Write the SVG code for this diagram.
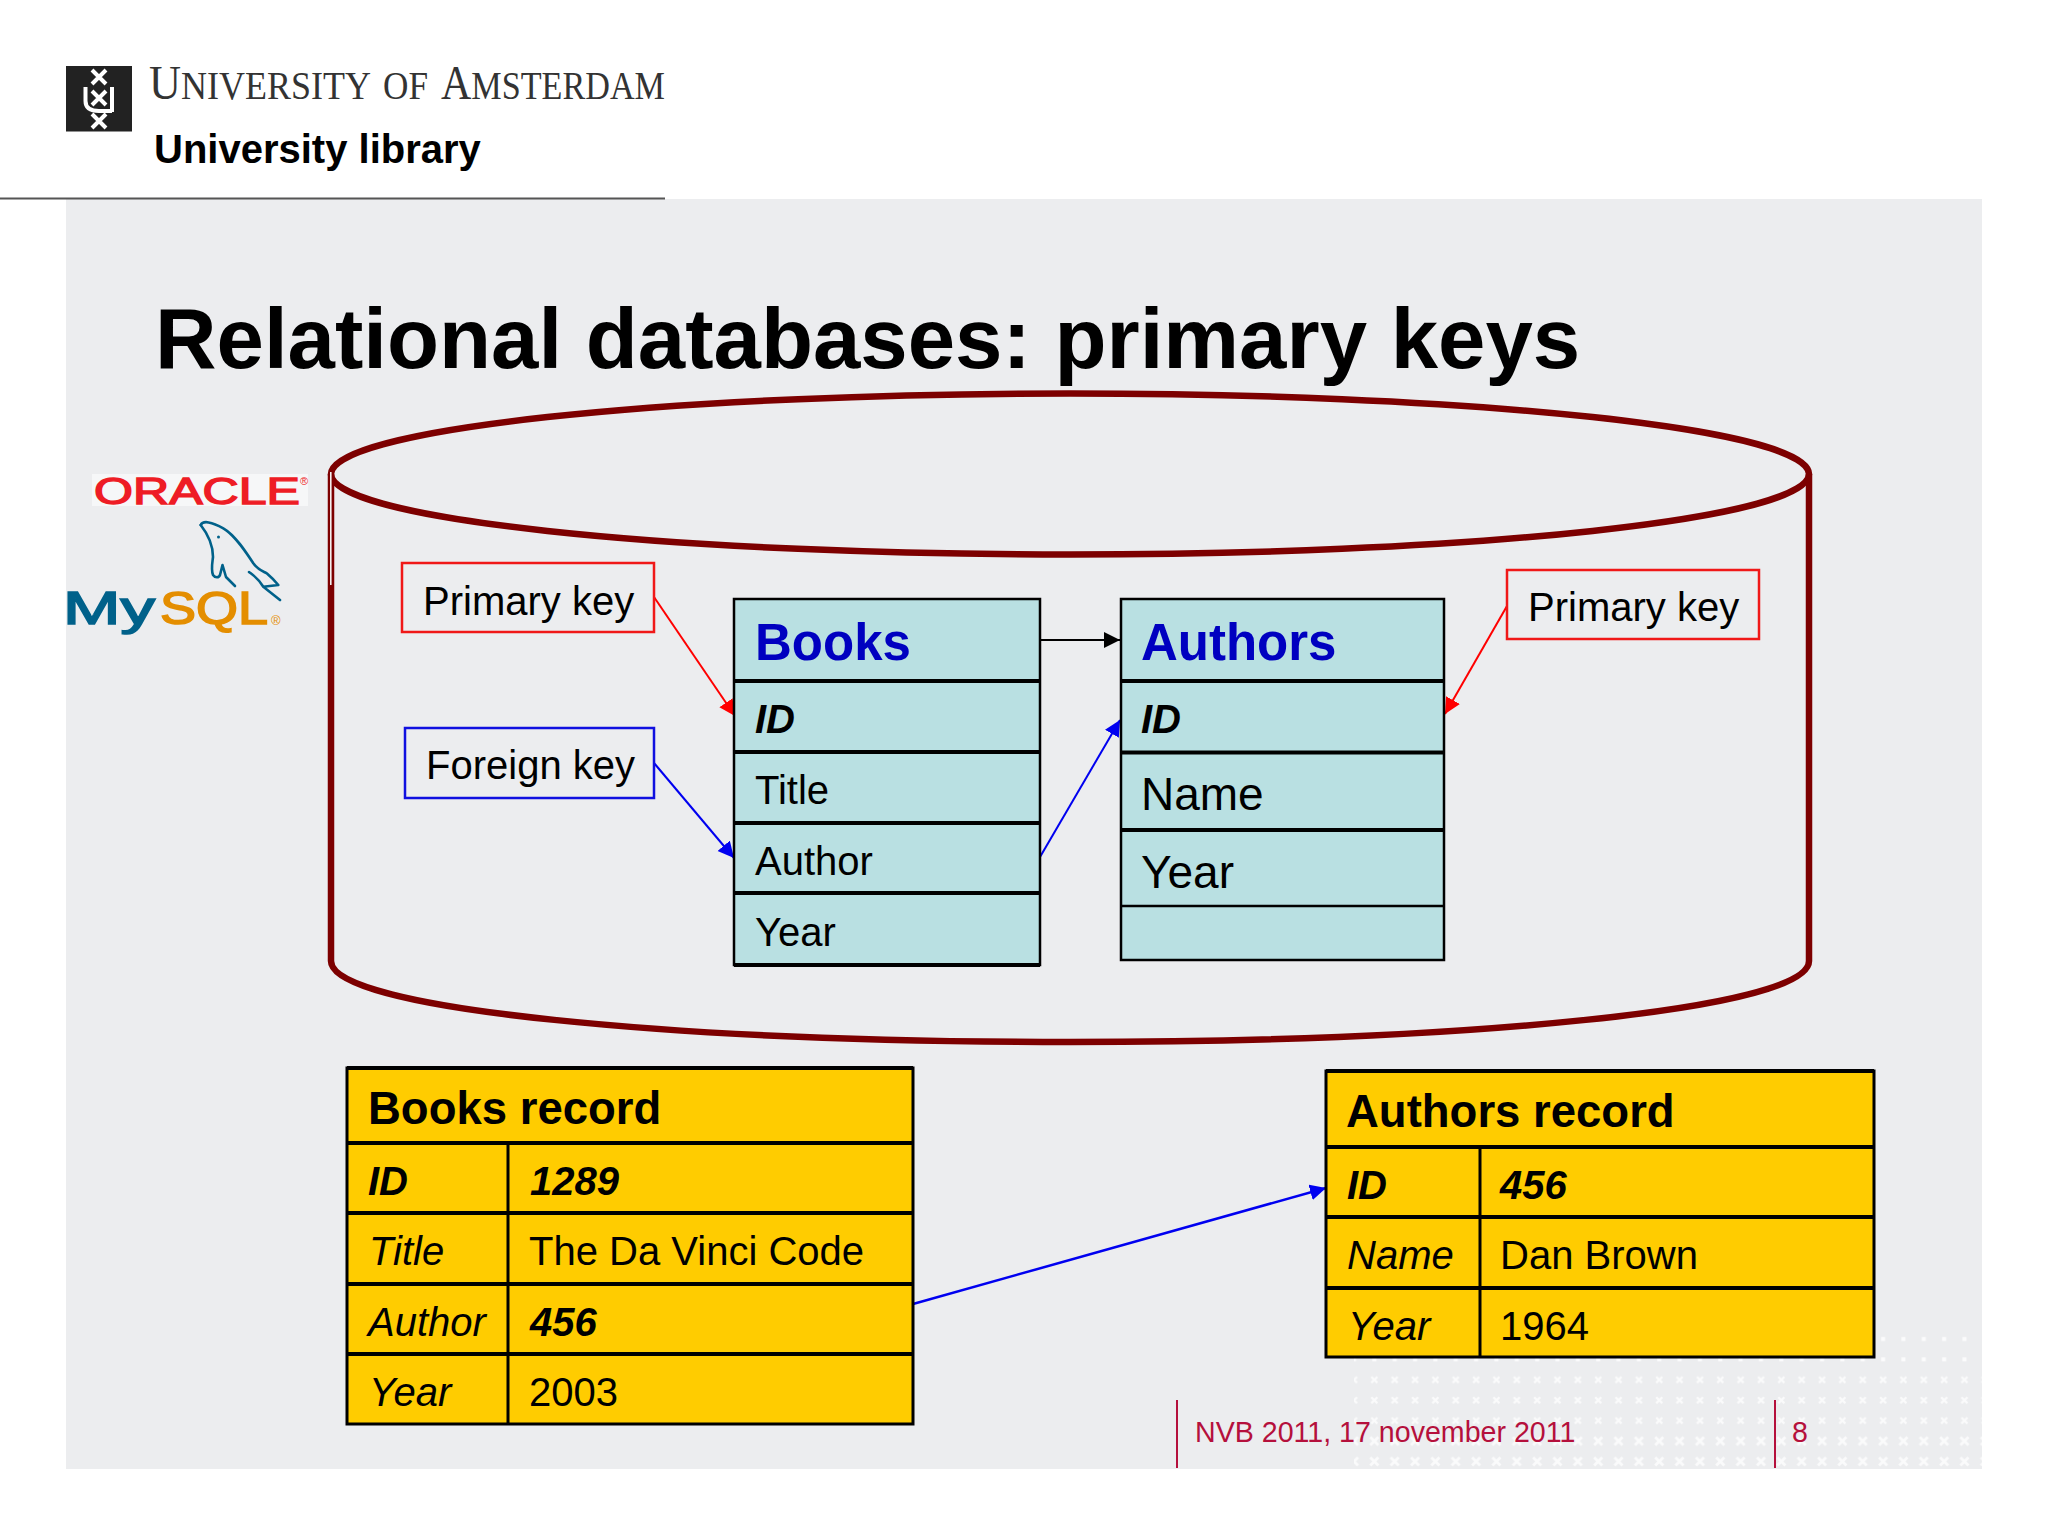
<svg xmlns="http://www.w3.org/2000/svg" width="2048" height="1536" viewBox="0 0 2048 1536">
<style>
text{font-family:"Liberation Sans",Arial,sans-serif;fill:#000}
.b{font-weight:bold}
.i{font-style:italic}
.s40{font-size:40px}
.s45{font-size:46px}
.hd{font-size:51px;font-weight:bold;fill:#0000c0}
.rh{font-size:45.500px;font-weight:bold}
.ft{font-size:28.600px;fill:#b5103c}
.teal{fill:#b9e0e2;stroke:none}
.yel{fill:#ffcc00;stroke:none}
.tk{stroke:#000;stroke-width:4;fill:none}
.tn{stroke:#000;stroke-width:2.5;fill:none}
.cl{stroke:#000;stroke-width:3;fill:none}
.redbox{fill:none;stroke:#f01818;stroke-width:2.5}
.bluebox{fill:none;stroke:#1010e0;stroke-width:2.5}
.cyl{fill:none;stroke:#7d0000;stroke-width:6.500}
.rule{stroke:#b5103c;stroke-width:2}
.dol{fill:none;stroke:#00618a;stroke-width:2.6;stroke-linejoin:round;stroke-linecap:round}
.uva{font-family:"Liberation Serif",serif;fill:#333;font-size:39px}
</style>
<defs>
<marker id="ar" markerUnits="userSpaceOnUse" markerWidth="18" markerHeight="18" refX="16" refY="8" orient="auto"><path d="M0 0L16 8L0 16Z" fill="#ff0000"/></marker>
<marker id="ab" markerUnits="userSpaceOnUse" markerWidth="18" markerHeight="18" refX="16" refY="8" orient="auto"><path d="M0 0L16 8L0 16Z" fill="#0000f0"/></marker>
<marker id="ak" markerUnits="userSpaceOnUse" markerWidth="18" markerHeight="18" refX="16" refY="8" orient="auto"><path d="M0 0L16 8L0 16Z" fill="#000"/></marker>
<pattern id="p1" patternUnits="userSpaceOnUse" x="1344" y="1329" width="20.35" height="20.4"><rect x="8" y="8" width="4" height="4" fill="#fff"/></pattern>
<pattern id="p2" patternUnits="userSpaceOnUse" x="1344" y="1329" width="20.35" height="20.4"><path d="M7 7l6 6M13 7l-6 6" stroke="#fff" stroke-width="2.2"/></pattern>
<pattern id="p3" patternUnits="userSpaceOnUse" x="1344" y="1329" width="20.35" height="20.4"><path d="M6 6l8 8M14 6l-8 8" stroke="#fff" stroke-width="2.8"/></pattern>
</defs>
<rect width="2048" height="1536" fill="#fff"/>
<rect x="66" y="199" width="1916" height="1270" fill="#ecedef"/>
<rect x="1880" y="1333" width="102" height="14" fill="url(#p1)" opacity=".8"/>
<rect x="1354" y="1350" width="628" height="19" fill="url(#p1)" opacity=".8"/>
<rect x="1354" y="1371" width="628" height="58" fill="url(#p2)" opacity=".75"/>
<rect x="1354" y="1431" width="628" height="38" fill="url(#p3)" opacity=".75"/>
<line x1="0" y1="198.5" x2="665" y2="198.5" stroke="#555" stroke-width="2"/>
<g id="logo">
<rect x="66" y="66" width="66" height="65.5" fill="#222"/>
<path d="M92 70l14 14M106 70l-14 14M92 91l14 14M106 91l-14 14M92 114l14 14M106 114l-14 14" stroke="#fff" stroke-width="4" fill="none"/>
<path d="M85.500 87v14q0 10 13.500 10h13M112 87v25" stroke="#fff" stroke-width="4" fill="none"/>
</g>
<g id="uva">
<text class="uva" x="149" y="99" style="fill:#333" textLength="222" lengthAdjust="spacingAndGlyphs"><tspan font-size="48">U</tspan>NIVERSITY</text>
<text class="uva" x="383" y="99" style="fill:#333" textLength="45" lengthAdjust="spacingAndGlyphs">OF</text>
<text class="uva" x="441" y="99" style="fill:#333" textLength="224" lengthAdjust="spacingAndGlyphs"><tspan font-size="48">A</tspan>MSTERDAM</text>
</g>
<text id="lib" x="154" y="163" class="b" font-size="40">University library</text>
<text id="title" x="155" y="368" class="b" font-size="85.200">Relational databases: primary keys</text>
<g id="oracle">
<rect x="92" y="474" width="216" height="32" fill="#fff" opacity=".55"/>
<text x="94" y="504" font-size="37" style="fill:#ee1c25;stroke:#ee1c25;stroke-width:1.400" textLength="206" lengthAdjust="spacingAndGlyphs">ORACLE</text>
<text x="300" y="485" font-size="11" style="fill:#ee1c25">®</text>
</g>
<g id="mysql">
<path class="dol" d="M200.700 525C203 520 212 522 223.300 528.300C235 535 246 552 253.300 563.300C258 570 262 571 266.700 573.300C271 577 275 581 278.300 585L263.300 586.700L280 600M263.300 586.700C258 578 253 575 249 572"/>
<path class="dol" d="M200.700 525C207 533 213 545 213 557C212 565 211 570 213 575C215 578 219 578 220 575L222.500 565L226 577L235 586"/>
<circle cx="218.500" cy="537" r="1.500" fill="#00618a"/>
<text x="63" y="624" font-size="46" style="fill:#00618a;stroke:#00618a;stroke-width:1.600" textLength="92" lengthAdjust="spacingAndGlyphs">My</text>
<text x="160" y="624" font-size="46" style="fill:#e48e00;stroke:#e48e00;stroke-width:1.600" textLength="108" lengthAdjust="spacingAndGlyphs">SQL</text>
<text x="271" y="625" font-size="13" style="fill:#e48e00">®</text>
</g>
<g id="database">
<ellipse class="cyl" cx="1070" cy="474" rx="739" ry="80.500"/>
<path class="cyl" d="M331 474V961C331 1010 680 1042 1070 1042C1460 1042 1809 1010 1809 961V474"/>
<path d="M330.800 472V585" stroke="#f4f0f0" stroke-width="1.600" fill="none"/>
</g>
<g id="connectors" fill="none" stroke-width="2">
<line x1="654" y1="597" x2="735" y2="716" stroke="#ff0000" marker-end="url(#ar)"/>
<line x1="654" y1="763" x2="734" y2="858" stroke="#0000f0" marker-end="url(#ab)"/>
<line x1="1040" y1="640" x2="1120" y2="640" stroke="#000" marker-end="url(#ak)"/>
<line x1="1040" y1="857" x2="1120" y2="720" stroke="#0000f0" marker-end="url(#ab)"/>
<line x1="1507" y1="606" x2="1445" y2="714" stroke="#ff0000" marker-end="url(#ar)"/>
<line x1="913" y1="1304" x2="1326" y2="1188" stroke="#0000f0" stroke-width="2.500" marker-end="url(#ab)"/>
</g>
<g id="pk-left"><rect class="redbox" x="402" y="563" width="252" height="69"/><text class="s40" x="423" y="615">Primary key</text></g>
<g id="fk"><rect class="bluebox" x="405" y="728" width="249" height="70"/><text class="s40" x="426" y="779">Foreign key</text></g>
<g id="pk-right"><rect class="redbox" x="1507" y="570" width="252" height="69"/><text class="s40" x="1528" y="621">Primary key</text></g>
<g id="books">
<rect class="teal" x="734" y="599" width="306" height="366"/>
<path class="tn" d="M734 599H1040V965H734Z"/>
<path class="tk" d="M734 681H1040M734 752H1040M734 823H1040M734 893H1040M734 965H1040"/>
<text class="hd" x="755" y="660" style="fill:#0000c0">Books</text>
<text class="s40 b i" x="755" y="733">ID</text>
<text class="s40" x="755" y="804">Title</text>
<text class="s40" x="755" y="875">Author</text>
<text class="s40" x="755" y="946">Year</text>
</g>
<g id="authors">
<rect class="teal" x="1121" y="599" width="323" height="361"/>
<path class="tn" d="M1121 599H1444V960H1121Z"/>
<path class="tk" d="M1121 681H1444M1121 752.500H1444M1121 830H1444"/>
<path class="tn" d="M1121 906H1444"/>
<text class="hd" x="1141" y="660" style="fill:#0000c0">Authors</text>
<text class="s40 b i" x="1141" y="733">ID</text>
<text class="s45" x="1141" y="810">Name</text>
<text class="s45" x="1141" y="888">Year</text>
</g>
<g id="books-record">
<rect class="yel" x="347" y="1068" width="566" height="356"/>
<path class="cl" d="M347 1068H913V1424H347Z"/>
<path class="tk" d="M347 1068H913M347 1143H913M347 1213H913M347 1284H913M347 1354H913"/>
<path class="cl" d="M508 1143V1424"/>
<text class="rh" x="368" y="1124">Books record</text>
<text class="s40 b i" x="368" y="1195">ID</text><text class="s40 b i" x="530" y="1195">1289</text>
<text class="s40 i" x="369" y="1265">Title</text><text class="s40" x="529" y="1265">The Da Vinci Code</text>
<text class="s40 i" x="368" y="1336">Author</text><text class="s40 b i" x="530" y="1336">456</text>
<text class="s40 i" x="369" y="1406">Year</text><text class="s40" x="529" y="1406">2003</text>
</g>
<g id="authors-record">
<rect class="yel" x="1326" y="1071" width="548" height="286"/>
<path class="cl" d="M1326 1071H1874V1357H1326Z"/>
<path class="tk" d="M1326 1071H1874M1326 1147H1874M1326 1217H1874M1326 1288H1874"/>
<path class="cl" d="M1480 1147V1357"/>
<text class="rh" x="1346" y="1127">Authors record</text>
<text class="s40 b i" x="1347" y="1199">ID</text><text class="s40 b i" x="1500" y="1199">456</text>
<text class="s40 i" x="1347" y="1269">Name</text><text class="s40" x="1500" y="1269">Dan Brown</text>
<text class="s40 i" x="1348" y="1340">Year</text><text class="s40" x="1500" y="1340">1964</text>
</g>
<g id="footer">
<line class="rule" x1="1177" y1="1400" x2="1177" y2="1468"/>
<line class="rule" x1="1775" y1="1400" x2="1775" y2="1468"/>
<text class="ft" x="1195" y="1442" style="fill:#b5103c">NVB 2011, 17 november 2011</text>
<text class="ft" x="1792" y="1442" style="fill:#b5103c">8</text>
</g>
</svg>
